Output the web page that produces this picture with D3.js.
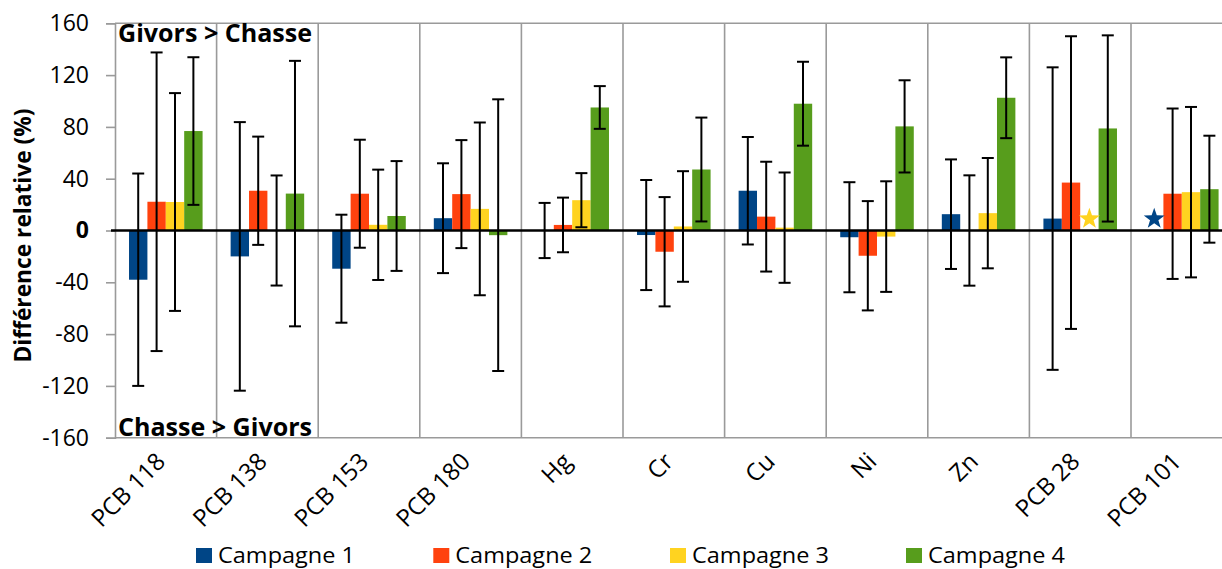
<!DOCTYPE html>
<html>
<head>
<meta charset="utf-8">
<script src="https://cdn.jsdelivr.net/npm/d3@7"></script>
<style>
  html, body { margin: 0; padding: 0; background: #fff; }
  svg { display: block; font-family: "Open Sans", "Liberation Sans", sans-serif; }
</style>
</head>
<body>
<svg id="chart" width="1222" height="569"></svg>
<script>
// ---------- data ----------
const categories = ["PCB 118", "PCB 138", "PCB 153", "PCB 180", "Hg", "Cr", "Cu", "Ni", "Zn", "PCB 28", "PCB 101"];
const seriesNames = ["Campagne 1", "Campagne 2", "Campagne 3", "Campagne 4"];
const seriesColors = ["#004586", "#ff420e", "#ffd320", "#579d1c"];

const campagne1 = [-38, -20, -29.5, 9.5, 0, -3.5, 30.7, -5.2, 12.6, 9.2, null];
const campagne1Err = [82, 103.7, 41.7, 42.4, 21.3, 42.5, 41.5, 42.5, 42.3, 116.8, null];
const campagne2 = [22.2, 30.7, 28.4, 28.1, 4.3, -16.4, 10.7, -19.5, 0, 37, 28.4];
const campagne2Err = [115.3, 41.8, 41.7, 41.7, 21.1, 42.2, 42.4, 42.2, 42.6, 113, 65.8];
const campagne3 = [22, 0, 4.4, 16.7, 23.4, 3.1, 2.2, -4.7, 13.4, null, 29.6];
const campagne3Err = [84.1, 42.5, 42.6, 66.7, 20.9, 42.7, 42.6, 42.7, 42.6, null, 65.8];
const campagne4 = [76.8, 28.5, 11.2, -3.6, 95, 47.1, 97.9, 80.4, 102.5, 78.8, 31.9];
const campagne4Err = [57, 102.5, 42.4, 104.9, 16.5, 40.1, 32.4, 35.6, 31.2, 71.9, 41.3];

// star markers (no measurement for that campaign)
const starCategories = ["PCB 28", "PCB 101"];
const starSeries = [2, 0];
const starValues = [9, 9];

const yTicks = [-160, -120, -80, -40, 0, 40, 80, 120, 160];
const yTitle = "Différence relative (%)";
const topNote = "Givors > Chasse";
const bottomNote = "Chasse > Givors";

// ---------- build ----------
const values = [campagne1, campagne2, campagne3, campagne4];
const errors = [campagne1Err, campagne2Err, campagne3Err, campagne4Err];

const svg = d3.select("#chart");
const plotLeft = 115, plotRight = 1232.6, plotTop = 23.3, plotBottom = 437.7;

const x0 = d3.scaleBand().domain(categories).range([plotLeft, plotRight]).padding(0);
const bw = x0.bandwidth();
const groupPad = bw * 0.138;
const x1 = d3.scaleBand().domain(d3.range(4)).range([groupPad, bw - groupPad]).padding(0);
const y = d3.scaleLinear().domain([-160, 160]).range([plotBottom, plotTop]);

const gridColor = "#9a9a9a";

// plot frame: top/bottom borders
svg.append("line").attr("x1", plotLeft).attr("x2", plotRight).attr("y1", y(160)).attr("y2", y(160))
  .attr("stroke", gridColor).attr("stroke-width", 1.6);
svg.append("line").attr("x1", plotLeft).attr("x2", plotRight).attr("y1", y(-160)).attr("y2", y(-160))
  .attr("stroke", gridColor).attr("stroke-width", 1.6);

// vertical separators between categories
svg.append("g").selectAll("line").data(categories.slice(1)).join("line")
  .attr("x1", d => x0(d)).attr("x2", d => x0(d))
  .attr("y1", y(160)).attr("y2", y(-160))
  .attr("stroke", gridColor).attr("stroke-width", 1.6);

// y axis
const yAxis = d3.axisLeft(y).tickValues(yTicks).tickSize(9).tickPadding(17)
  .tickFormat(d => String(d));
const gy = svg.append("g").attr("transform", `translate(${plotLeft},0)`).call(yAxis);
gy.select(".domain").attr("stroke", gridColor).attr("stroke-width", 1.6);
gy.selectAll(".tick line").attr("stroke", gridColor).attr("stroke-width", 1.6);
gy.selectAll(".tick text")
  .attr("font-size", 23).attr("fill", "#000")
  .attr("font-family", "'Open Sans', sans-serif")
  .attr("font-weight", d => d === 0 ? "bold" : "normal");

// y title
svg.append("text")
  .attr("transform", `translate(31,${(y(160) + y(-160)) / 2 + 5}) rotate(-90)`)
  .attr("text-anchor", "middle")
  .attr("font-size", 24).attr("font-weight", "bold")
  .attr("textLength", 254).attr("lengthAdjust", "spacingAndGlyphs")
  .text(yTitle);

// bars
const flat = [];
categories.forEach((c, i) => {
  values.forEach((s, k) => {
    if (s[i] !== null) flat.push({ cat: c, k, v: s[i], e: errors[k][i] });
  });
});

svg.append("g").selectAll("rect").data(flat).join("rect")
  .attr("x", d => x0(d.cat) + x1(d.k))
  .attr("width", x1.bandwidth())
  .attr("y", d => y(Math.max(0, d.v)))
  .attr("height", d => Math.abs(y(d.v) - y(0)))
  .attr("fill", d => seriesColors[d.k]);

// star markers
function starPath(cx, cy, R, r) {
  const pts = [];
  for (let i = 0; i < 10; i++) {
    const a = -Math.PI / 2 + i * Math.PI / 5;
    const rad = i % 2 === 0 ? R : r;
    pts.push([cx + rad * Math.cos(a), cy + rad * Math.sin(a)]);
  }
  return "M" + pts.map(p => p.join(",")).join("L") + "Z";
}
svg.append("g").selectAll("path").data(starCategories.map((c, i) => ({ cat: c, k: starSeries[i], v: starValues[i] })))
  .join("path")
  .attr("d", d => starPath(x0(d.cat) + x1(d.k) + x1.bandwidth() / 2, y(d.v), 11, 4.4))
  .attr("fill", d => seriesColors[d.k]);

// zero line
svg.append("line").attr("x1", plotLeft - 4).attr("x2", plotRight).attr("y1", y(0)).attr("y2", y(0))
  .attr("stroke", "#000").attr("stroke-width", 2.6);

// error bars
const eg = svg.append("g").attr("stroke", "#000").attr("stroke-width", 2);
flat.forEach(d => {
  const cx = x0(d.cat) + x1(d.k) + x1.bandwidth() / 2;
  const y1 = y(d.v + d.e), y2 = y(d.v - d.e);
  eg.append("line").attr("x1", cx).attr("x2", cx).attr("y1", y1).attr("y2", y2);
  eg.append("line").attr("x1", cx - 6).attr("x2", cx + 6).attr("y1", y1).attr("y2", y1);
  eg.append("line").attr("x1", cx - 6).attr("x2", cx + 6).attr("y1", y2).attr("y2", y2);
});

// notes
svg.append("text").attr("x", plotLeft + 3).attr("y", 41.5)
  .attr("font-size", 25).attr("font-weight", "bold")
  .attr("textLength", 194).attr("lengthAdjust", "spacingAndGlyphs")
  .text(topNote);
svg.append("text").attr("x", plotLeft + 3).attr("y", 435.5)
  .attr("font-size", 25).attr("font-weight", "bold")
  .attr("textLength", 194).attr("lengthAdjust", "spacingAndGlyphs")
  .text(bottomNote);

// x labels
svg.append("g").selectAll("text").data(categories).join("text")
  .attr("transform", d => `translate(${x0(d) + bw / 2 + 1},${463}) rotate(-45)`)
  .attr("text-anchor", "end")
  .attr("font-size", 24)
  .text(d => d);

// legend
const legendX = [196, 433.3, 670, 906];
const lg = svg.append("g");
seriesNames.forEach((n, k) => {
  lg.append("rect").attr("x", legendX[k]).attr("y", 548).attr("width", 16).attr("height", 15)
    .attr("fill", seriesColors[k]);
  lg.append("text").attr("x", legendX[k] + 22).attr("y", 562.5)
    .attr("font-size", 22.5)
    .attr("textLength", 137).attr("lengthAdjust", "spacingAndGlyphs")
    .text(n);
});
</script>
</body>
</html>
